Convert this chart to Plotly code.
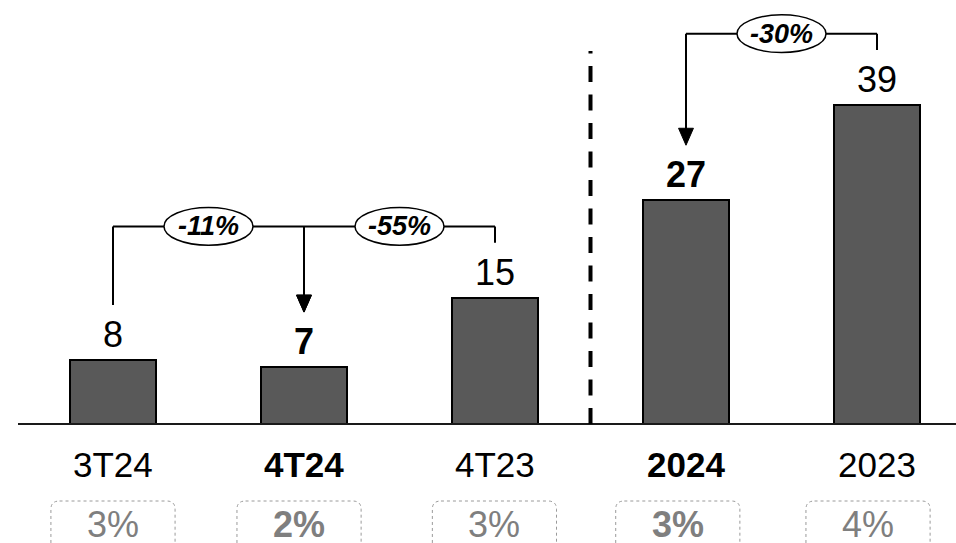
import plotly.graph_objects as go

# ---- data ----
categories = ["3T24", "4T24", "4T23", "2024", "2023"]
values = [7.8, 6.95, 15.4, 27.3, 38.9]
value_labels = ["8", "7", "15", "27", "39"]
bold_flags = [False, True, False, True, False]
share_labels = ["3%", "2%", "3%", "3%", "4%"]
# comparisons: (from index, to index, label)
comparisons = [(0, 1, "-11%"), (2, 1, "-55%"), (4, 3, "-30%")]

W, H = 956, 543
X_RANGE = [-0.5916, 4.4136]
Y_RANGE = [-14.51, 51.71]
FONT = "Liberation Sans, Arial, sans-serif"

def ypx(py):  # pixel row -> paper fraction
    return 1 - py / H

def xpx(px):  # pixel col -> paper fraction
    return px / W

xs = list(range(len(categories)))
fig = go.Figure()
fig.add_trace(go.Bar(
    x=xs, y=values, width=0.455,
    marker=dict(color="#595959", line=dict(color="#000000", width=2)),
    hoverinfo="skip", showlegend=False,
))

shapes = []
annotations = []

def b(t, flag):
    return f"<b>{t}</b>" if flag else t

# value labels, category labels, share boxes
box_offsets = [0.0, -0.026, -0.003, -0.043, -0.047]
for i, (v, lab, bf, cat, sh) in enumerate(zip(values, value_labels, bold_flags, categories, share_labels)):
    annotations.append(dict(x=i, y=v, xref="x", yref="y", text=b(lab, bf), showarrow=False,
                            yanchor="bottom", yshift=3,
                            font=dict(family=FONT, size=36, color="#000")))
    annotations.append(dict(x=i, y=ypx(464), xref="x", yref="paper", text=b(cat, bf), showarrow=False,
                            yanchor="middle", font=dict(family=FONT, size=35, color="#000")))
    c = i + box_offsets[i]
    x0, x1 = c - 0.325, c + 0.325
    y0, y1 = ypx(501), ypx(560)
    r = 0.045
    ry = 0.015
    path = (f"M {x0+r},{y0} L {x1-r},{y0} Q {x1},{y0} {x1},{y0-ry} "
            f"L {x1},{y1+ry} Q {x1},{y1} {x1-r},{y1} L {x0+r},{y1} Q {x0},{y1} {x0},{y1+ry} "
            f"L {x0},{y0-ry} Q {x0},{y0} {x0+r},{y0} Z")
    shapes.append(dict(type="path", path=path, xref="x", yref="paper",
                       line=dict(color="#9a9a9a", width=1, dash="dot")))
    annotations.append(dict(x=c, y=ypx(524), xref="x", yref="paper", text=b(sh, bf), showarrow=False,
                            yanchor="middle", font=dict(family=FONT, size=36, color="#7f7f7f")))

# baseline
shapes.append(dict(type="line", xref="paper", yref="y", x0=xpx(18), x1=1, y0=0, y1=0,
                   line=dict(color="#1a1a1a", width=2)))
# dashed separator
shapes.append(dict(type="line", xref="x", yref="y", x0=2.5, x1=2.5, y0=0, y1=45.5,
                   line=dict(color="#000", width=4, dash="16px,12.5px")))

GAP = 6.7
LEVEL_GAP = 2.0
ell = []
for (a, t, lab) in comparisons:
    ya = values[a] + GAP
    yt = values[t] + GAP
    if lab in ("-11%", "-55%"):
        level = max(values[0], values[1], values[2]) + GAP + LEVEL_GAP
    else:
        level = max(values[a], values[t]) + GAP + LEVEL_GAP
    shapes.append(dict(type="line", xref="x", yref="y", x0=a, x1=a, y0=ya, y1=level,
                       line=dict(color="#000", width=2)))
    shapes.append(dict(type="line", xref="x", yref="y", x0=a, x1=t, y0=level, y1=level,
                       line=dict(color="#000", width=2)))
    shapes.append(dict(type="line", xref="x", yref="y", x0=t, x1=t, y0=yt + 1.5, y1=level,
                       line=dict(color="#000", width=2)))
    hw, hh = 0.039, 2.07
    shapes.append(dict(type="path", xref="x", yref="y",
                       path=f"M {t-hw},{yt+hh} L {t+hw},{yt+hh} L {t},{yt} Z",
                       fillcolor="#000", line=dict(color="#000", width=1)))
    ell.append(((a + t) / 2, level, lab))

for (mid, level, lab) in ell:
    shapes.append(dict(type="circle", xref="x", yref="y", x0=mid - 0.233, x1=mid + 0.233,
                       y0=level - 2.3, y1=level + 2.3, fillcolor="#fff",
                       line=dict(color="#000", width=1.5)))
    annotations.append(dict(x=mid, y=level, xref="x", yref="y", text=f"<b><i>{lab}</i></b>",
                            showarrow=False, yanchor="middle",
                            font=dict(family=FONT, size=27, color="#000")))

fig.update_layout(
    width=W, height=H, margin=dict(l=0, r=0, t=0, b=0),
    paper_bgcolor="#fff", plot_bgcolor="#fff",
    xaxis=dict(range=X_RANGE, visible=False, fixedrange=True),
    yaxis=dict(range=Y_RANGE, visible=False, fixedrange=True),
    shapes=shapes, annotations=annotations, bargap=0,
)
fig.write_html("out.html", config={"displayModeBar": False},
               post_script="document.body.style.margin='0';")
